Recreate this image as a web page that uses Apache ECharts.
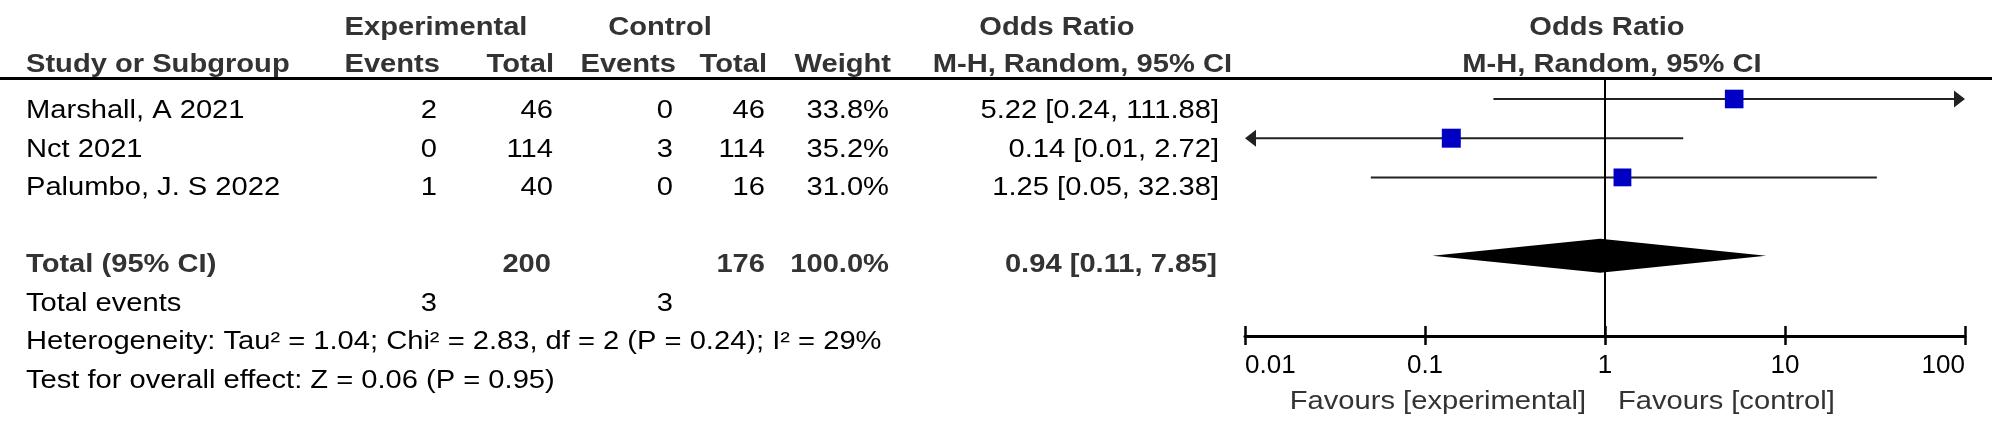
<!DOCTYPE html>
<html>
<head>
<meta charset="utf-8">
<script src="https://cdn.jsdelivr.net/npm/echarts@6/dist/echarts.min.js"></script>
<style>
html,body{margin:0;padding:0;background:#fff;}
#c{width:2000px;height:434px;}
</style>
</head>
<body>
<div id="c"></div>
<script>
// ---------------- data ----------------
const studies     = ['Marshall, A 2021', 'Nct 2021', 'Palumbo, J. S 2022'];
const expEvents   = [2, 0, 1];
const expTotal    = [46, 114, 40];
const ctrlEvents  = [0, 3, 0];
const ctrlTotal   = [46, 114, 16];
const weights     = [33.8, 35.2, 31.0];
const orEst       = [5.22, 0.14, 1.25];
const orLow       = [0.24, 0.01, 0.05];
const orHigh      = [111.88, 2.72, 32.38];
const pooledOR    = [0.94, 0.11, 7.85];          // estimate, low, high
const totalN      = [200, 176];                  // experimental, control
const totalWeight = '100.0%';
const totalEvents = [3, 3];
const heterogeneityText = 'Heterogeneity: Tau\u00B2 = 1.04; Chi\u00B2 = 2.83, df = 2 (P = 0.24); I\u00B2 = 29%';
const overallText = 'Test for overall effect: Z = 0.06 (P = 0.95)';
const groupHeaders = ['Experimental', 'Control', 'Odds Ratio', 'Odds Ratio'];
const colHeaders = ['Study or Subgroup', 'Events', 'Total', 'Events', 'Total', 'Weight', 'M-H, Random, 95% CI', 'M-H, Random, 95% CI'];
const tickValues = [0.01, 0.1, 1, 10, 100];
const favourLabels = ['Favours [experimental]', 'Favours [control]'];

// ---------------- layout / style ----------------
const FONT = '"Liberation Sans", Arial, Helvetica, sans-serif';
const FS = 26;
const SX = 1.12;                  // horizontal stretch of the original raster
const HEAD_C = '#333';
const TXT_C = '#000';
const X_MIN = tickValues[0], X_MAX = tickValues[tickValues.length - 1];
const Y_MIN = -0.51, Y_MAX = 6.046;
const TOTAL_ROW = 4;
const ROW0_Y = 111, ROW_H = 38.5;
const HDR1_Y = 27.5, HDR2_Y = 65;
const COL = {study: 26, expE: 437, expT: 553, ctlE: 673, ctlT: 765, wt: 889, orR: 1219};
const AH_LEN = 11, AH_HALF = 8.5;
const SQ_K = 3.2;
const DIA_HALF = 0.434;

function fmtOR(e, l, h) { return e.toFixed(2) + ' [' + l.toFixed(2) + ', ' + h.toFixed(2) + ']'; }

function txt(text, x, y, align, bold, color) {
  return {
    type: 'text', x: x, y: y, scaleX: SX, silent: true,
    style: {
      text: String(text),
      font: (bold ? 'bold ' : '') + FS + 'px ' + FONT,
      fill: color || (bold ? HEAD_C : TXT_C),
      align: align, verticalAlign: 'middle'
    }
  };
}

const rowY = r => ROW0_Y + ROW_H * r;
const g = [];
// header rule
g.push({type: 'line', silent: true, shape: {x1: 0, y1: 78.5, x2: 1992, y2: 78.5}, style: {stroke: '#000', lineWidth: 3}});
// group headers
g.push(txt(groupHeaders[0], 436, HDR1_Y, 'center', true));
g.push(txt(groupHeaders[1], 660, HDR1_Y, 'center', true));
g.push(txt(groupHeaders[2], 1057, HDR1_Y, 'center', true));
g.push(txt(groupHeaders[3], 1607, HDR1_Y, 'center', true));
// column headers
g.push(txt(colHeaders[0], COL.study, HDR2_Y, 'left', true));
g.push(txt(colHeaders[1], 440, HDR2_Y, 'right', true));
g.push(txt(colHeaders[2], 554, HDR2_Y, 'right', true));
g.push(txt(colHeaders[3], 676, HDR2_Y, 'right', true));
g.push(txt(colHeaders[4], 767, HDR2_Y, 'right', true));
g.push(txt(colHeaders[5], 891, HDR2_Y, 'right', true));
g.push(txt(colHeaders[6], 1232, HDR2_Y, 'right', true));
g.push(txt(colHeaders[7], 1612, HDR2_Y, 'center', true));
// study rows
studies.forEach((s, i) => {
  const y = rowY(i);
  g.push(txt(s, COL.study, y, 'left', false));
  g.push(txt(expEvents[i], COL.expE, y, 'right', false));
  g.push(txt(expTotal[i], COL.expT, y, 'right', false));
  g.push(txt(ctrlEvents[i], COL.ctlE, y, 'right', false));
  g.push(txt(ctrlTotal[i], COL.ctlT, y, 'right', false));
  g.push(txt(weights[i].toFixed(1) + '%', COL.wt, y, 'right', false));
  g.push(txt(fmtOR(orEst[i], orLow[i], orHigh[i]), COL.orR, y, 'right', false));
});
// total row
let y4 = rowY(TOTAL_ROW);
g.push(txt('Total (95% CI)', COL.study, y4, 'left', true));
g.push(txt(totalN[0], COL.expT - 2, y4, 'right', true));
g.push(txt(totalN[1], COL.ctlT, y4, 'right', true));
g.push(txt(totalWeight, COL.wt, y4, 'right', true));
g.push(txt(fmtOR(pooledOR[0], pooledOR[1], pooledOR[2]), COL.orR - 2, y4, 'right', true));
// total events
g.push(txt('Total events', COL.study, rowY(5), 'left', false));
g.push(txt(totalEvents[0], COL.expE, rowY(5), 'right', false));
g.push(txt(totalEvents[1], COL.ctlE, rowY(5), 'right', false));
g.push(txt(heterogeneityText, COL.study, rowY(6), 'left', false));
g.push(txt(overallText, COL.study, rowY(7), 'left', false));

const chart = echarts.init(document.getElementById('c'), null, {renderer: 'canvas', width: 2000, height: 434});

const axisBase = {
  type: 'log', logBase: 10, min: X_MIN, max: X_MAX, gridIndex: 0, position: 'bottom', offset: 0,
  splitLine: {show: false}, minorTick: {show: false}
};

chart.setOption({
  animation: false,
  backgroundColor: '#fff',
  grid: {left: 1245, right: 35, top: 79, bottom: 98, containLabel: false},
  xAxis: [
    Object.assign({}, axisBase, {
      axisLine: {show: true, onZero: false, lineStyle: {color: '#000', width: 3}},
      axisTick: {show: true, inside: false, length: 9, lineStyle: {color: '#000', width: 2.5}},
      axisLabel: {
        show: true, margin: 17, color: '#000', fontSize: FS, fontFamily: FONT,
        alignMinLabel: 'left', alignMaxLabel: 'right',
        formatter: v => String(v)
      }
    }),
    Object.assign({}, axisBase, {
      axisLine: {show: false, onZero: false},
      axisTick: {show: true, inside: true, length: 10, lineStyle: {color: '#000', width: 2.5}},
      axisLabel: {show: false}
    })
  ],
  yAxis: {type: 'value', inverse: true, min: Y_MIN, max: Y_MAX, show: false},
  graphic: g,
  series: [
    {
      // confidence intervals
      type: 'custom', xAxisIndex: 0, yAxisIndex: 0, z: 2, silent: true,
      data: studies.map((s, i) => [orLow[i], orHigh[i], i]),
      encode: {x: [0, 1], y: 2},
      renderItem: function (params, api) {
        const lo = api.value(0), hi = api.value(1), r = api.value(2);
        const clipL = lo <= X_MIN, clipR = hi >= X_MAX;
        const p1 = api.coord([Math.max(lo, X_MIN), r]);
        const p2 = api.coord([Math.min(hi, X_MAX), r]);
        const x1 = clipL ? p1[0] + AH_LEN : p1[0];
        const x2 = clipR ? p2[0] - AH_LEN : p2[0];
        const ch = [{type: 'line', shape: {x1: x1, y1: p1[1], x2: x2, y2: p2[1]}, style: {stroke: '#222', lineWidth: 2}}];
        if (clipL) ch.push({type: 'polygon', shape: {points: [[p1[0], p1[1]], [p1[0] + AH_LEN, p1[1] - AH_HALF], [p1[0] + AH_LEN, p1[1] + AH_HALF]]}, style: {fill: '#222'}});
        if (clipR) ch.push({type: 'polygon', shape: {points: [[p2[0], p2[1]], [p2[0] - AH_LEN, p2[1] - AH_HALF], [p2[0] - AH_LEN, p2[1] + AH_HALF]]}, style: {fill: '#222'}});
        return {type: 'group', children: ch};
      }
    },
    {
      // pooled diamond
      type: 'custom', xAxisIndex: 0, yAxisIndex: 0, z: 3, silent: true,
      data: [[pooledOR[0], pooledOR[1], pooledOR[2], TOTAL_ROW]],
      encode: {x: [0, 1, 2], y: 3},
      renderItem: function (params, api) {
        const e = api.value(0), l = api.value(1), h = api.value(2), r = api.value(3);
        const pts = [api.coord([l, r]), api.coord([e, r - DIA_HALF]), api.coord([h, r]), api.coord([e, r + DIA_HALF])];
        return {type: 'polygon', shape: {points: pts}, style: {fill: '#000'}};
      }
    },
    {
      // study point estimates
      type: 'scatter', xAxisIndex: 0, yAxisIndex: 0, z: 4, silent: true,
      symbol: 'rect',
      symbolSize: d => SQ_K * Math.sqrt(d[2]),
      itemStyle: {color: '#0000c4', opacity: 1},
      data: orEst.map((v, i) => [v, i, weights[i]]),
      markLine: {
        silent: true, symbol: ['none', 'none'], label: {show: false},
        lineStyle: {color: '#000', width: 2, type: 'solid'},
        data: [{xAxis: 1}]
      }
    },
    {
      // favours labels anchored to the line of no effect
      type: 'custom', xAxisIndex: 0, yAxisIndex: 0, z: 5, silent: true,
      data: [[1, Y_MAX]],
      renderItem: function (params, api) {
        const p = api.coord([api.value(0), api.value(1)]);
        const y = p[1] + 66;
        const mk = (t, x, al) => ({type: 'text', x: x, y: y, scaleX: SX,
          style: {text: t, font: FS + 'px ' + FONT, fill: '#333', align: al, verticalAlign: 'middle'}});
        return {type: 'group', children: [mk(favourLabels[0], p[0] - 19, 'right'), mk(favourLabels[1], p[0] + 13, 'left')]};
      }
    }
  ]
});
</script>
</body>
</html>
